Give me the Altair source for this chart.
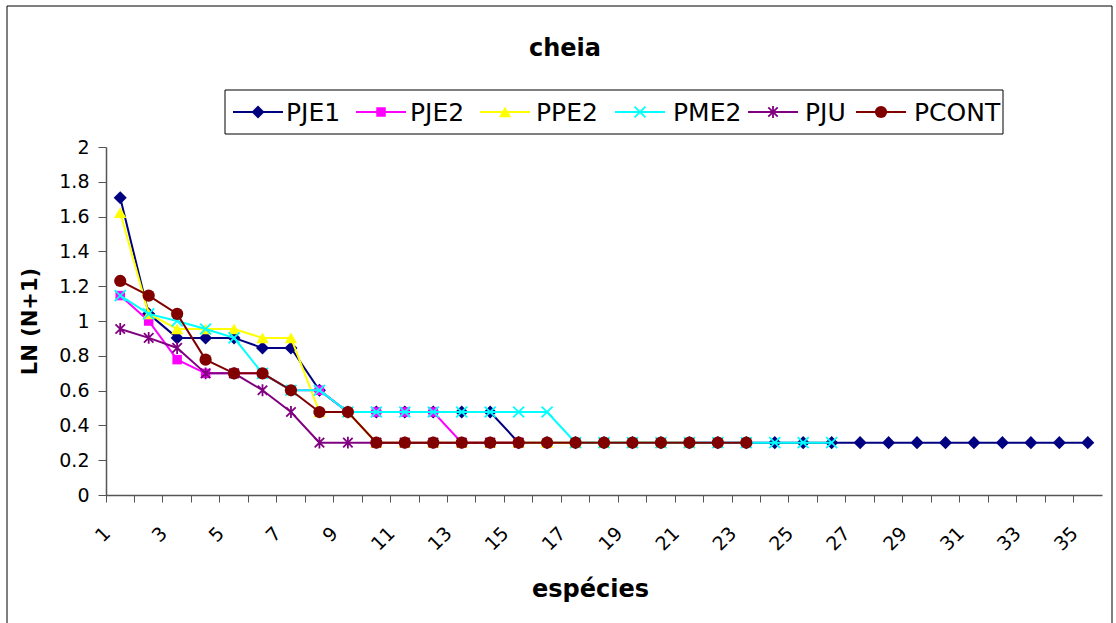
import altair as alt
import pandas as pd

# ---- data -----------------------------------------------------------------
especies = list(range(1, 36))
series = ["PJE1", "PJE2", "PPE2", "PME2", "PJU", "PCONT"]

pje1 = [1.708, 1.041, 0.903, 0.903, 0.903, 0.845, 0.845, 0.602, 0.477, 0.477,
        0.477, 0.477, 0.477, 0.477, 0.301, 0.301, 0.301, 0.301, 0.301, 0.301,
        0.301, 0.301, 0.301, 0.301, 0.301, 0.301, 0.301, 0.301, 0.301, 0.301,
        0.301, 0.301, 0.301, 0.301, 0.301]
pje2 = [1.146, 1.000, 0.778, 0.699, 0.699, 0.699, 0.602, 0.602, 0.477, 0.477,
        0.477, 0.477, 0.301, 0.301, 0.301]
ppe2 = [1.623, 1.041, 0.954, 0.954, 0.954, 0.903, 0.903, 0.477, 0.477, 0.301,
        0.301, 0.301, 0.301, 0.301, 0.301, 0.301, 0.301, 0.301, 0.301, 0.301,
        0.301]
pme2 = [1.146, 1.041, 1.000, 0.954, 0.903, 0.699, 0.602, 0.602, 0.477, 0.477,
        0.477, 0.477, 0.477, 0.477, 0.477, 0.477, 0.301, 0.301, 0.301, 0.301,
        0.301, 0.301, 0.301, 0.301, 0.301, 0.301]
pju = [0.954, 0.903, 0.845, 0.699, 0.699, 0.602, 0.477, 0.301, 0.301, 0.301,
       0.301, 0.301, 0.301, 0.301, 0.301]
pcont = [1.230, 1.146, 1.041, 0.778, 0.699, 0.699, 0.602, 0.477, 0.477, 0.301,
         0.301, 0.301, 0.301, 0.301, 0.301, 0.301, 0.301, 0.301, 0.301, 0.301,
         0.301, 0.301, 0.301]

y_ticks = [0, 0.2, 0.4, 0.6, 0.8, 1.0, 1.2, 1.4, 1.6, 1.8, 2.0]

values = {"PJE1": pje1, "PJE2": pje2, "PPE2": ppe2,
          "PME2": pme2, "PJU": pju, "PCONT": pcont}

# ---- styles ---------------------------------------------------------------
FONT = "DejaVu Sans"
colors = {"PJE1": "#000080", "PJE2": "#FF00FF", "PPE2": "#FFFF00",
          "PME2": "#00FFFF", "PJU": "#800080", "PCONT": "#800000"}
CROSS = "M-1,-1L1,1M-1,1L1,-1"
STAR = "M-0.8,-0.8L0.8,0.8M-0.8,0.8L0.8,-0.8M0,-1L0,1"
markers = {
    "PJE1": dict(shape="diamond", filled=True, size=170),
    "PJE2": dict(shape="square", filled=True, size=90),
    "PPE2": dict(shape="triangle-up", filled=True, size=150),
    "PME2": dict(shape=CROSS, filled=False, size=120, strokeWidth=1.8),
    "PJU": dict(shape=STAR, filled=False, size=140, strokeWidth=1.8),
    "PCONT": dict(shape="circle", filled=True, size=150),
}

W, H = 996, 348
PAD = {"left": 106, "top": 147, "right": 14, "bottom": 128}

x_enc = alt.X(
    "especie:O",
    scale=alt.Scale(type="band", domain=especies, paddingInner=0, paddingOuter=0),
    title="espécies",
    axis=alt.Axis(
        bandPosition=0, labelAngle=315, labelAlign="right", labelBaseline="middle",
        labelExpr="datum.value % 2 == 1 ? datum.label : ''",
        labelOffset=-13,
        labelFont=FONT, labelFontSize=19, labelColor="black", labelPadding=28,
        labelOverlap=False,
        tickSize=7, tickColor="#555555", domainColor="#555555", domainWidth=1.5,
        titleFont=FONT, titleFontSize=24, titleFontWeight="bold", titleColor="black",
        titleX=484, titleY=94, titleAlign="center", titleBaseline="middle",
        grid=False,
    ),
)
y_enc = alt.Y(
    "valor:Q",
    scale=alt.Scale(domain=[0, 2], nice=False, zero=True),
    title="LN (N+1)",
    axis=alt.Axis(
        values=y_ticks, format="~g", labelFont=FONT, labelFontSize=19,
        labelOverlap=False, labelColor="black", labelPadding=9, tickSize=8,
        tickColor="#555555", domainColor="#555555", domainWidth=1.5, grid=False,
        titleFont=FONT, titleFontSize=21, titleFontWeight="bold", titleColor="black",
        titleX=-76, titleY=174, titleAngle=270, titleAlign="center",
        titleBaseline="middle",
    ),
)

# one line + marker pair per series, drawn in series order
layers = []
for name in series:
    vals = values[name]
    df = pd.DataFrame({"especie": especies[: len(vals)], "valor": vals, "serie": name})
    base = alt.Chart(df)
    layers.append(base.mark_line(color=colors[name], strokeWidth=2).encode(x=x_enc, y=y_enc))
    layers.append(
        base.mark_point(color=colors[name], opacity=1, **markers[name]).encode(x=x_enc, y=y_enc)
    )

# ---- frame, title and legend (plot-area pixel offsets) ----------------------
one = alt.Data(values=[{}])
frame = alt.Chart(one).mark_rect(filled=False, stroke="black", strokeWidth=1).encode(
    x=alt.value(-99), x2=alt.value(1006), y=alt.value(-141), y2=alt.value(600)
)
title = alt.Chart(one).mark_text(
    text="cheia", font=FONT, fontSize=24, fontWeight="bold", color="black",
    align="center", baseline="middle"
).encode(x=alt.value(459), y=alt.value(-98))

legend_box = alt.Chart(one).mark_rect(filled=False, stroke="black", strokeWidth=1).encode(
    x=alt.value(119), x2=alt.value(897), y=alt.value(-57), y2=alt.value(-13)
)
legend_sym_x = {"PJE1": 152, "PJE2": 275, "PPE2": 399, "PME2": 534, "PJU": 667, "PCONT": 775}
legend_txt_x = {"PJE1": 180, "PJE2": 304, "PPE2": 430, "PME2": 567, "PJU": 699, "PCONT": 808}
LEG_Y = -35
legend_layers = [legend_box]
for name in series:
    cx = legend_sym_x[name]
    legend_layers.append(
        alt.Chart(one).mark_rule(color=colors[name], strokeWidth=2).encode(
            x=alt.value(cx - 25), x2=alt.value(cx + 25), y=alt.value(LEG_Y)
        )
    )
    legend_layers.append(
        alt.Chart(one).mark_point(color=colors[name], opacity=1, **markers[name]).encode(
            x=alt.value(cx), y=alt.value(LEG_Y)
        )
    )
    legend_layers.append(
        alt.Chart(one).mark_text(
            text=name, font=FONT, fontSize=25, color="black",
            align="left", baseline="middle"
        ).encode(x=alt.value(legend_txt_x[name]), y=alt.value(LEG_Y + 1))
    )

chart = (
    alt.layer(*layers, frame, title, *legend_layers)
    .properties(width=W, height=H, padding=PAD,
                autosize=alt.AutoSizeParams(type="none"),
                background="white")
    .configure_view(stroke=None)
)

chart.save("out.html", embed_options={"renderer": "svg", "actions": False})
